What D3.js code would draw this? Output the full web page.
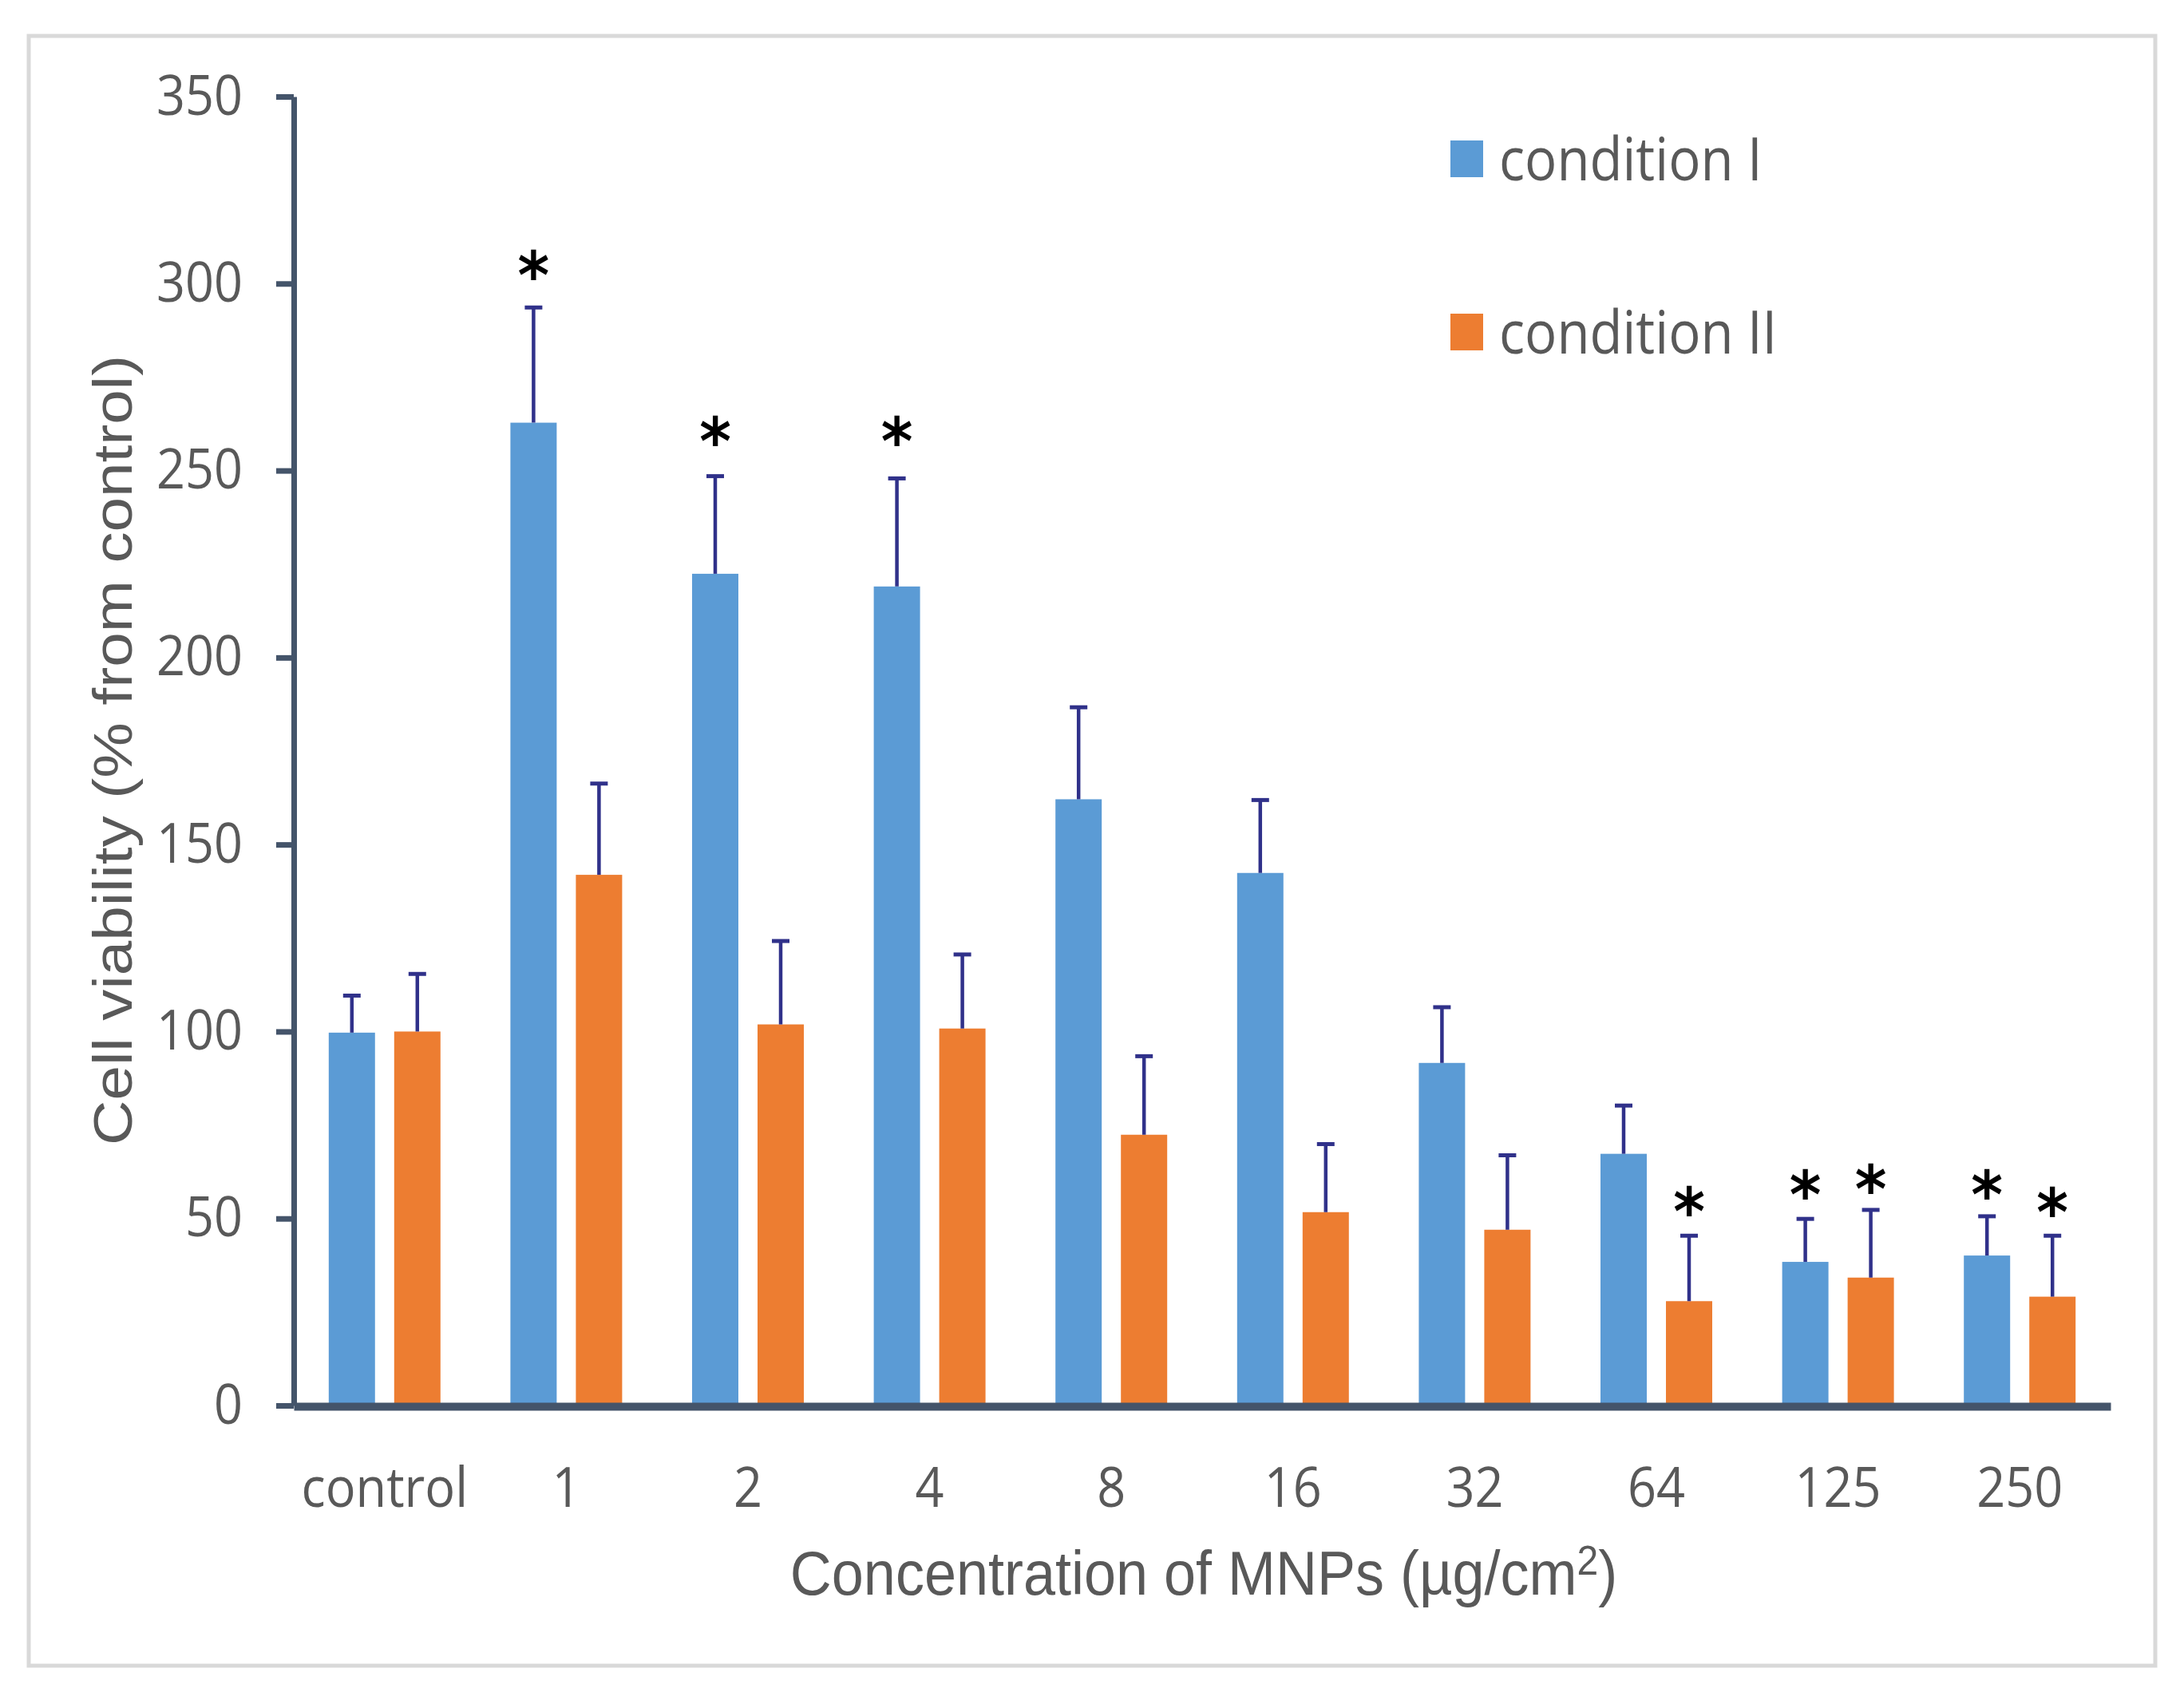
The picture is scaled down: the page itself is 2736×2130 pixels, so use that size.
<!DOCTYPE html>
<html>
<head>
<meta charset="utf-8">
<script src="https://cdn.jsdelivr.net/npm/d3@7"></script>
<style>
  html, body { margin: 0; padding: 0; background: #ffffff; }
  svg { display: block; }
</style>
</head>
<body>
<div id="chart"></div>
<script>

// values
const categories = ["control", "1", "2", "4", "8", "16", "32", "64", "125", "250"];
const seriesNames = ["condition I", "condition II"];
const seriesColors = ["#5b9bd5", "#ed7d31"];

const viabilityI = [99.7, 262.8, 222.4, 219.0, 162.1, 142.4, 91.6, 67.3, 38.4, 40.1];
const errorI     = [9.9, 30.8, 26.1, 28.9, 24.6, 19.5, 14.9, 12.9, 11.5, 10.5];
const viabilityII = [100.0, 141.9, 101.9, 100.8, 72.4, 51.7, 47.0, 27.9, 34.2, 29.1];
const errorII     = [15.4, 24.4, 22.3, 19.8, 21.0, 18.2, 19.9, 17.5, 18.1, 16.3];

// level (in % units) where each significance star sits, null = no star
const starI  = [null, 305.4, 261, 261, null, null, null, null, 59.5, 59.5];
const starII = [null, null, null, null, null, null, null, 55, 61, 54.8];

const yTicks = [0, 50, 100, 150, 200, 250, 300, 350];

const yTitle = "Cell viability (% from control)";

class ViabilityChart {

	constructor() {
		this.width = 2736;
		this.height = 2130;
		this.svg = d3.select("#chart").append("svg")
			.attr("width", this.width)
			.attr("height", this.height);

		this.x0 = d3.scaleBand().domain(categories).range([368, 2644])
			.paddingInner(0.385).paddingOuter(0.1925);
		this.x1 = d3.scaleBand().domain(d3.range(seriesNames.length))
			.range([0, this.x0.bandwidth()]).paddingInner(0.293);
		this.y = d3.scaleLinear().domain([0, 350]).range([1761, 121]);
	}

	draw() {
		let that = this;
		let svg = this.svg;

		svg.append("rect").attr("width", this.width).attr("height", this.height).attr("fill", "#fff");
		// outer frame of the figure
		svg.append("rect")
			.attr("x", 36).attr("y", 45)
			.attr("width", 2664).attr("height", 2042)
			.attr("fill", "#fff")
			.attr("stroke", "#d9d9d9")
			.attr("stroke-width", 5);

		let rows = categories.map((c, i) => ({
			cat: c,
			bars: [
				{ s: 0, v: viabilityI[i], e: errorI[i], star: starI[i] },
				{ s: 1, v: viabilityII[i], e: errorII[i], star: starII[i] }
			]
		}));

		let groups = svg.append("g").selectAll("g")
			.data(rows)
			.enter()
			.append("g")
			.attr("transform", d => "translate(" + that.x0(d.cat) + ",0)");

		groups.selectAll("rect")
			.data(d => d.bars)
			.enter()
			.append("rect")
			.attr("x", d => that.x1(d.s))
			.attr("width", this.x1.bandwidth())
			.attr("y", d => that.y(d.v))
			.attr("height", d => that.y(0) - that.y(d.v))
			.attr("fill", d => seriesColors[d.s]);

		// error bars (upper only)
		let err = groups.selectAll("g.err")
			.data(d => d.bars)
			.enter()
			.append("g")
			.attr("class", "err")
			.attr("stroke", "#30318a");
		err.append("line")
			.attr("x1", d => that.x1(d.s) + that.x1.bandwidth() / 2)
			.attr("x2", d => that.x1(d.s) + that.x1.bandwidth() / 2)
			.attr("y1", d => that.y(d.v))
			.attr("y2", d => that.y(d.v + d.e))
			.attr("stroke-width", 4.5);
		err.append("line")
			.attr("x1", d => that.x1(d.s) + that.x1.bandwidth() / 2 - 11)
			.attr("x2", d => that.x1(d.s) + that.x1.bandwidth() / 2 + 11)
			.attr("y1", d => that.y(d.v + d.e))
			.attr("y2", d => that.y(d.v + d.e))
			.attr("stroke-width", 5);

		// significance stars
		groups.selectAll("text.star")
			.data(d => d.bars.filter(b => b.star != null))
			.enter()
			.append("text")
			.attr("class", "star")
			.attr("transform", d => "translate(" + (that.x1(d.s) + that.x1.bandwidth() / 2) + "," + (that.y(d.star) + 44) + ") scale(1,1.08)")
			.attr("text-anchor", "middle")
			.style("font-family", "'DejaVu Sans', sans-serif")
			.style("font-weight", "bold")
			.style("font-size", "76px")
			.attr("fill", "#000")
			.text("*");

		// y axis
		let yAxis = d3.axisLeft(this.y).tickValues(yTicks).tickSize(22).tickSizeOuter(0).tickPadding(42);
		let gy = svg.append("g").attr("transform", "translate(368,0)").call(yAxis);
		gy.select(".domain").attr("stroke", "#44546a").attr("stroke-width", 7);
		gy.selectAll(".tick line").attr("stroke", "#44546a").attr("stroke-width", 7);
		gy.selectAll(".tick text")
			.attr("fill", "#595959")
			.attr("dy", null)
			.attr("x", null)
			.attr("transform", "translate(-64,22) scale(1,1.1)")
			.style("font-family", "'Open Sans', sans-serif")
			.style("font-size", "63px");

		// x axis
		let xAxis = d3.axisBottom(this.x0).tickSize(0).tickSizeOuter(0);
		let gx = svg.append("g").attr("transform", "translate(0," + 1762 + ")").call(xAxis);
		gx.select(".domain").attr("stroke", "#44546a").attr("stroke-width", 10);
		gx.selectAll(".tick text")
			.attr("fill", "#595959")
			.attr("y", null)
			.attr("dy", null)
			.attr("transform", "translate(0,126) scale(1,1.1)")
			.style("font-family", "'Open Sans', sans-serif")
			.style("font-size", "63px");

		// axis titles
		let xt = svg.append("text")
			.attr("transform", "translate(1508,1998) scale(1,1.08)")
			.attr("text-anchor", "middle")
			.attr("fill", "#595959")
			.style("font-family", "'Liberation Sans', Arial, sans-serif")
			.style("font-size", "72px");
		xt.append("tspan").text("Concentration of MNPs (\u00b5g/cm");
		xt.append("tspan").attr("dy", -23).style("font-size", "48px").text("2");
		xt.append("tspan").attr("dy", 23).text(")");

		svg.append("text")
			.attr("transform", "translate(165,940) rotate(-90)")
			.attr("text-anchor", "middle")
			.attr("fill", "#595959")
			.attr("textLength", 990)
			.attr("lengthAdjust", "spacingAndGlyphs")
			.style("font-family", "'Liberation Sans', Arial, sans-serif")
			.style("font-size", "68px")
			.text(yTitle);

		this.legend();
	}

	legend() {
		let lg = this.svg.append("g").selectAll("g")
			.data(seriesNames)
			.enter()
			.append("g")
			.attr("transform", (d, i) => "translate(1817," + (176 + i * 217) + ")");
		lg.append("rect")
			.attr("width", 41).attr("height", 46)
			.attr("fill", (d, i) => seriesColors[i]);
		lg.append("text")
			.attr("transform", "translate(61,50) scale(1,1.13)")
			.attr("fill", "#595959")
			.style("font-family", "'Open Sans', sans-serif")
			.style("font-size", "67px")
			.text(d => d);
	}
}

let chart = new ViabilityChart();
chart.draw();
</script>
</body>
</html>
